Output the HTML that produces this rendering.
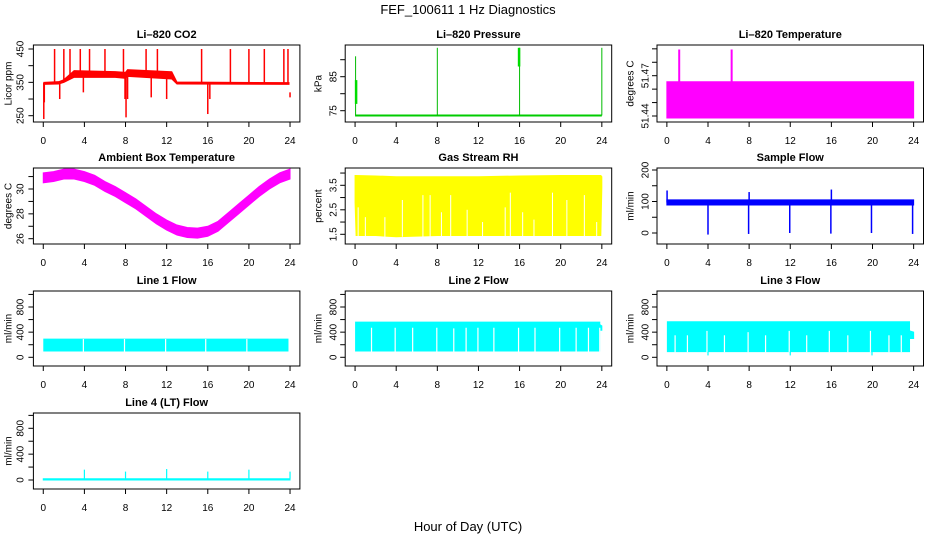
<!DOCTYPE html>
<html><head><meta charset="utf-8"><style>
html,body{margin:0;padding:0;background:#fff;}
svg{display:block;font-family:"Liberation Sans",Arial,sans-serif;}
</style></head><body>
<svg id="chart" width="936" height="540" viewBox="0 0 936 540" xmlns="http://www.w3.org/2000/svg">
<rect x="0" y="0" width="936" height="540" fill="#fff"/>
<text x="468" y="14" text-anchor="middle" font-size="13">FEF_100611  1 Hz Diagnostics</text>
<text x="468" y="531" text-anchor="middle" font-size="13">Hour of Day (UTC)</text>
</svg>
<script>
// ---- data arrays ----
const xTicks = [0, 4, 8, 12, 16, 20, 24];

// CO2
const co2BandHours = [0.05, 1.5, 2, 3, 7, 8, 8.2, 12.5, 13, 23.9];
const co2BandLo = [344, 345, 350, 365, 365, 362, 368, 360, 345, 344];
const co2BandHi = [350, 352, 358, 385, 382, 380, 388, 382, 351, 349];
const co2SpikeHours = [0.05, 0.1, 1.1, 1.6, 2.0, 2.6, 3.6, 3.9, 4.5, 6.0, 7.8, 7.95, 8.05, 8.2, 10.0, 10.5, 11.1, 12.0, 15.4, 16.0, 16.2, 18.2, 20.0, 21.5, 23.4, 23.8, 24.0];
const co2SpikeTo = [240, 290, 450, 300, 450, 450, 450, 320, 450, 450, 450, 300, 245, 300, 450, 305, 450, 300, 450, 255, 300, 450, 450, 450, 450, 450, 305];
const co2SpikeFrom = [348, 348, 352, 350, 355, 365, 370, 372, 372, 375, 372, 370, 370, 372, 378, 378, 378, 375, 346, 346, 346, 346, 346, 346, 346, 346, 320];

// Pressure
const presBase = 73.6;
const presSpikeHours = [0.05, 8.0, 16.0, 24.0];
const presSpikeTo = [91, 93.5, 93.5, 93.5];
const presThickHours = [0.1, 15.95];
const presThickLo = [77, 88];
const presThickHi = [84, 93.5];

// Li-820 temperature
const litBandLo = 51.4385;
const litBandHi = 51.4655;
const litSpikeHours = [1.2, 6.3];
const litSpikeTo = [51.4895, 51.4895];

// Ambient temperature
const ambHours = [0,1,2,3,4,5,6,7,8,9,10,11,12,13,14,15,16,17,18,19,20,21,22,23,24];
const ambValues = [30.9,31.0,31.2,31.2,31.0,30.7,30.2,29.8,29.3,28.8,28.2,27.6,27.1,26.7,26.5,26.45,26.6,27.0,27.7,28.4,29.1,29.8,30.4,30.9,31.2];
const ambHalfWidth = 0.4;

// Gas stream RH
const rhHours = [0, 0.1, 2, 4, 8, 12, 16, 20, 23.9, 24];
const rhLo = [2.8, 1.45, 1.45, 1.4, 1.45, 1.45, 1.45, 1.45, 1.45, 3.4];
const rhHi = [3.9, 3.9, 3.88, 3.85, 3.85, 3.85, 3.88, 3.9, 3.9, 3.85];
const rhGapHours = [0.3, 1.0, 2.9, 4.6, 6.6, 7.3, 8.4, 9.3, 10.9, 12.4, 14.6, 15.1, 16.3, 17.4, 19.2, 20.6, 22.3, 23.5];
const rhGapTop = [2.6, 2.2, 2.2, 2.9, 3.1, 3.1, 2.4, 3.1, 2.5, 2.0, 2.6, 3.2, 2.4, 2.1, 3.2, 2.9, 3.1, 2.0];

// Sample flow
const sfBandLo = 89;
const sfBandHi = 105;
const sfSpikeHours = [0.02, 4.0, 7.95, 8.0, 11.95, 15.95, 16.0, 19.9, 23.9];
const sfSpikeTo = [135, -5, -3, 130, 0, -2, 138, 0, -3];

// Line flows
const l1Lo = 100, l1Hi = 290;
const l1GapHours = [3.9, 7.9, 11.9, 15.8, 19.8];
const l1GapTop = [290, 290, 290, 290, 290];
const l2Lo = 100, l2Hi = 560;
const l2GapHours = [1.6, 3.9, 5.6, 7.95, 9.6, 10.8, 11.95, 13.5, 15.9, 17.5, 19.9, 21.5, 22.7, 23.8];
const l2GapTop = [470, 470, 470, 470, 460, 470, 470, 470, 470, 470, 470, 470, 470, 470];
const l3Lo = 90, l3Hi = 565;
const l3GapHours = [0.8, 2.0, 3.9, 5.6, 7.9, 9.6, 11.9, 13.6, 15.8, 17.6, 19.8, 21.6, 22.8];
const l3GapTop = [350, 350, 420, 350, 400, 350, 420, 350, 420, 350, 420, 350, 350];
const l3DipHours = [4.0, 12.0, 19.95];
const l3DipTo = [30, 30, 30];
const l4Lo = 0, l4Hi = 20;
const l4SpikeHours = [4.0, 8.0, 12.0, 16.0, 20.0, 24.0];
const l4SpikeTo = [160, 130, 170, 130, 160, 130];

// ---- layout ----
const svg = document.getElementById('chart');
const NS = 'http://www.w3.org/2000/svg';
const colLeft = [33.4, 345.2, 657.0];
const boxW = 266.5;
const rowTop = [45, 168, 291, 413];
const rowBot = [122, 244, 366, 489];
const ylabX = [9, 319, 631];
const ytickX = [21, 334, 646];

function mk(tag, attrs, parent) {
  const e = document.createElementNS(NS, tag);
  for (const k in attrs) e.setAttribute(k, attrs[k]);
  (parent || svg).appendChild(e);
  return e;
}

function makePanel(col, row, title, ylab, yA, yB, yTicks, yLabels, name) {
  const g = mk('g', {});
  
  
  const L = colLeft[col], R = L + boxW, T = rowTop[row], B = rowBot[row];
  const xs = h => L + boxW * (0.04 / 1.08) + h * (boxW / 1.08) / 24;
  const ys = v => yA[1] + (v - yA[0]) * (yB[1] - yA[1]) / (yB[0] - yA[0]);
  const plot = mk('g', {}, g);
  
  
  const box = mk('rect', {x: L, y: T, width: boxW, height: B - T, fill: 'none', stroke: '#000', 'stroke-width': 1}, g);
  
  
  const t = mk('text', {x: (L + R) / 2, y: T - 7, 'text-anchor': 'middle', 'font-size': 11, 'font-weight': 'bold'}, g);
  t.textContent = title;
  
  
  const yl = mk('text', {x: ylabX[col], y: (T + B) / 2, 'text-anchor': 'middle', 'font-size': 10, transform: 'rotate(-90 ' + ylabX[col] + ' ' + (T + B) / 2 + ')', 'dominant-baseline': 'middle'}, g);
  yl.textContent = ylab;
  
  
  xTicks.forEach(v => {
    const x = xs(v);
    const tk = mk('line', {x1: x, x2: x, y1: B, y2: B + 5, stroke: '#000'}, g);
    
    
    const lb = mk('text', {x: x, y: B + 22, 'text-anchor': 'middle', 'font-size': 10}, g);
    lb.textContent = v;
    
    
  });
  yTicks.forEach(v => {
    const y = ys(v);
    const tk = mk('line', {x1: L, x2: L - 5, y1: y, y2: y, stroke: '#000'}, g);
    
    
  });
  yLabels.forEach(v => {
    const y = ys(v);
    const tx = ytickX[col];
    const lb = mk('text', {x: tx, y: y, 'text-anchor': 'middle', 'font-size': 10, transform: 'rotate(-90 ' + tx + ' ' + y + ')', 'dominant-baseline': 'middle'}, g);
    lb.textContent = String(v);
    
    
  });
  return {g: plot, xs, ys};
}

function band(p, hours, lo, hi, color, name) {
  let pts = hours.map((h, i) => p.xs(h) + ',' + p.ys(hi[i]));
  for (let i = hours.length - 1; i >= 0; i--) pts.push(p.xs(hours[i]) + ',' + p.ys(lo[i]));
  const e = mk('polygon', {points: pts.join(' '), fill: color, stroke: color, 'stroke-width': 1}, p.g);
  
  
}
function vline(p, h, a, b, color, w, name) {
  const x = p.xs(h);
  const e = mk('line', {x1: x, x2: x, y1: p.ys(a), y2: p.ys(b), stroke: color, 'stroke-width': w}, p.g);
  
  
}

// CO2
let p = makePanel(0, 0, 'Li\u2013820 CO2', 'Licor ppm', [250, 115.7], [450, 49], [250, 300, 350, 400, 450], [250, 350, 450], 'co2');
band(p, co2BandHours, co2BandLo, co2BandHi, '#ff0000', 'co2-band');
co2SpikeHours.forEach((h, i) => vline(p, h, co2SpikeFrom[i], co2SpikeTo[i], '#ff0000', 1.5, 'co2-spike'));

// Pressure
p = makePanel(1, 0, 'Li\u2013820 Pressure', 'kPa', [75, 110.7], [85, 76.7], [75, 80, 85, 90], [75, 85], 'pressure');
band(p, [0.05, 23.95], [presBase - 0.15, presBase - 0.15], [presBase + 0.15, presBase + 0.15], '#00cc00', 'pressure-baseline');
presSpikeHours.forEach((h, i) => vline(p, h, presBase, presSpikeTo[i], '#00bb00', 1, 'pressure-spike'));
presThickHours.forEach((h, i) => vline(p, h, presThickLo[i], presThickHi[i], '#00dd00', 2.5, 'pressure-burst'));

// Li-820 Temperature
p = makePanel(2, 0, 'Li\u2013820 Temperature', 'degrees C', [51.44, 116], [51.47, 75.7], [51.44, 51.45, 51.46, 51.47, 51.48, 51.49], [51.44, 51.47], 'licor-temp');
band(p, [0, 24], [litBandLo, litBandLo], [litBandHi, litBandHi], '#ff00ff', 'licor-temp-band');
litSpikeHours.forEach((h, i) => vline(p, h, litBandHi, litSpikeTo[i], '#ff00ff', 2, 'licor-temp-spike'));

// Ambient
p = makePanel(0, 1, 'Ambient Box Temperature', 'degrees C', [26, 238.7], [30, 189], [26, 27, 28, 29, 30, 31], [26, 28, 30], 'ambient-temp');
band(p, ambHours, ambValues.map(v => v - ambHalfWidth), ambValues.map(v => v + ambHalfWidth), '#ff00ff', 'ambient-temp-band');

// RH
p = makePanel(1, 1, 'Gas Stream RH', 'percent', [1.5, 234.3], [3.5, 185.3], [1.5, 2, 2.5, 3, 3.5, 4], [1.5, 2.5, 3.5], 'rh');
band(p, rhHours, rhLo, rhHi, '#ffff00', 'rh-band');
rhGapHours.forEach((h, i) => vline(p, h, rhLo[2] - 0.05, rhGapTop[i], '#ffffff', 1, 'rh-gap'));

// Sample flow
p = makePanel(2, 1, 'Sample Flow', 'ml/min', [0, 233], [200, 170], [0, 50, 100, 150, 200], [0, 100, 200], 'sample-flow');
band(p, [0, 24], [sfBandLo, sfBandLo], [sfBandHi, sfBandHi], '#0000ff', 'sample-flow-band');
sfSpikeHours.forEach((h, i) => vline(p, h, 97, sfSpikeTo[i], '#0000ff', 1.5, 'sample-flow-spike'));

// Line flows
const lfTicks = [0, 200, 400, 600, 800, 1000], lfLabels = [0, 400, 800];
p = makePanel(0, 2, 'Line 1 Flow', 'ml/min', [0, 357.3], [800, 307], lfTicks, lfLabels, 'line1-flow');
band(p, [0.05, 23.8], [l1Lo, l1Lo], [l1Hi, l1Hi], '#00ffff', 'line1-band');
l1GapHours.forEach((h, i) => vline(p, h, l1Lo - 10, l1GapTop[i], '#ffffff', 1.2, 'line1-gap'));

p = makePanel(1, 2, 'Line 2 Flow', 'ml/min', [0, 357.3], [800, 307], lfTicks, lfLabels, 'line2-flow');
band(p, [0.05, 23.8, 23.8, 24], [l2Lo, l2Lo, 430, 430], [l2Hi, l2Hi, 520, 500], '#00ffff', 'line2-band');
l2GapHours.forEach((h, i) => vline(p, h, l2Lo - 10, l2GapTop[i], '#ffffff', 1.2, 'line2-gap'));

p = makePanel(2, 2, 'Line 3 Flow', 'ml/min', [0, 357.3], [800, 307], lfTicks, lfLabels, 'line3-flow');
band(p, [0.05, 23.6, 23.6, 24], [l3Lo, l3Lo, 300, 300], [l3Hi, l3Hi, 420, 400], '#00ffff', 'line3-band');
l3GapHours.forEach((h, i) => vline(p, h, l3Lo - 10, l3GapTop[i], '#ffffff', 1.2, 'line3-gap'));
l3DipHours.forEach((h, i) => vline(p, h, l3Lo, l3DipTo[i], '#00ffff', 1.2, 'line3-dip'));

p = makePanel(0, 3, 'Line 4 (LT) Flow', 'ml/min', [0, 480], [800, 428.3], lfTicks, lfLabels, 'line4-flow');
band(p, [0, 24], [l4Lo, l4Lo], [l4Hi, l4Hi], '#00ffff', 'line4-band');
l4SpikeHours.forEach((h, i) => vline(p, h, l4Hi, l4SpikeTo[i], '#00ffff', 1.2, 'line4-spike'));
</script>
</body></html>
